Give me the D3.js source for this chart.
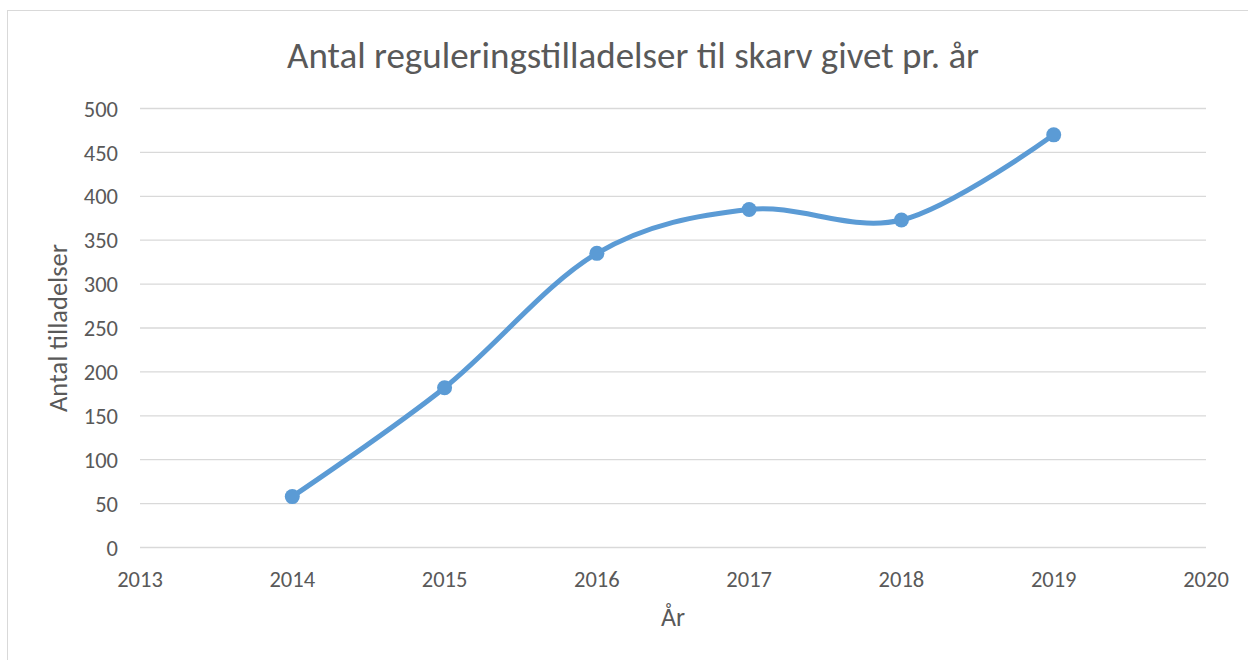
<!DOCTYPE html>
<html>
<head>
<meta charset="utf-8">
<script src="https://cdn.jsdelivr.net/npm/d3@7"></script>
<style>
  html, body { margin: 0; padding: 0; background: #fff; }
  svg { display: block; font-family: Carlito, Calibri, Lato, "Open Sans", sans-serif; }
</style>
</head>
<body>
<svg id="main-svg" width="1248" height="660"></svg>
<script>
// Chart data
const years = [2014, 2015, 2016, 2017, 2018, 2019];
const permits = [58, 182, 335, 385, 373, 470];
const xTicks = [2013, 2014, 2015, 2016, 2017, 2018, 2019, 2020];
const yTicks = [0, 50, 100, 150, 200, 250, 300, 350, 400, 450, 500];

const svg = d3.select('#main-svg');
const textColor = '#595959';

// Outer chart border
svg.append('rect')
    .attr('x', 7.5).attr('y', 10.5)
    .attr('width', 1260).attr('height', 680)
    .attr('fill', '#fff')
    .attr('stroke', '#d9d9d9')
    .attr('stroke-width', 1);

const x = d3.scaleLinear().domain([2013, 2020]).range([140, 1206]);
const y = d3.scaleLinear().domain([0, 500]).range([547.5, 108.5]);

// Gridlines
svg.append('g')
    .selectAll('line')
    .data(yTicks)
    .enter()
    .append('line')
    .attr('x1', x(2013)).attr('x2', x(2020))
    .attr('y1', d => y(d)).attr('y2', d => y(d))
    .attr('stroke', '#d9d9d9')
    .attr('stroke-width', 1.3);

// Y tick labels
svg.append('g')
    .selectAll('text')
    .data(yTicks)
    .enter()
    .append('text')
    .attr('x', 118)
    .attr('y', d => y(d))
    .attr('dy', '0.36em')
    .attr('text-anchor', 'end')
    .attr('fill', textColor)
    .style('font-size', '22.5px')
    .text(d => d);

// X tick labels
svg.append('g')
    .selectAll('text')
    .data(xTicks)
    .enter()
    .append('text')
    .attr('x', d => x(d))
    .attr('y', 587)
    .attr('text-anchor', 'middle')
    .attr('fill', textColor)
    .style('font-size', '22.5px')
    .text(d => d);

// Title
svg.append('text')
    .attr('x', 633).attr('y', 68)
    .attr('text-anchor', 'middle')
    .attr('fill', textColor)
    .style('font-size', '37px')
    .text('Antal reguleringstilladelser til skarv givet pr. år');

// Axis titles
svg.append('text')
    .attr('x', 673).attr('y', 626)
    .attr('text-anchor', 'middle')
    .attr('fill', textColor)
    .style('font-size', '26px')
    .text('År');

svg.append('text')
    .attr('transform', `translate(67, ${(y(0) + y(500)) / 2}) rotate(-90)`)
    .attr('text-anchor', 'middle')
    .attr('fill', textColor)
    .style('font-size', '26.5px')
    .text('Antal tilladelser');

// Smoothed line
const points = years.map((yr, i) => ({ year: yr, value: permits[i] }));

const line = d3.line()
    .x(d => x(d.year))
    .y(d => y(d.value))
    .curve(d3.curveCardinal.tension(0));

svg.append('path')
    .datum(points)
    .attr('d', line)
    .attr('fill', 'none')
    .attr('stroke', '#5b9bd5')
    .attr('stroke-width', 5)
    .attr('stroke-linecap', 'round');

// Markers
svg.append('g')
    .selectAll('circle')
    .data(points)
    .enter()
    .append('circle')
    .attr('cx', d => x(d.year))
    .attr('cy', d => y(d.value))
    .attr('r', 7.5)
    .attr('fill', '#5b9bd5');
</script>
</body>
</html>
